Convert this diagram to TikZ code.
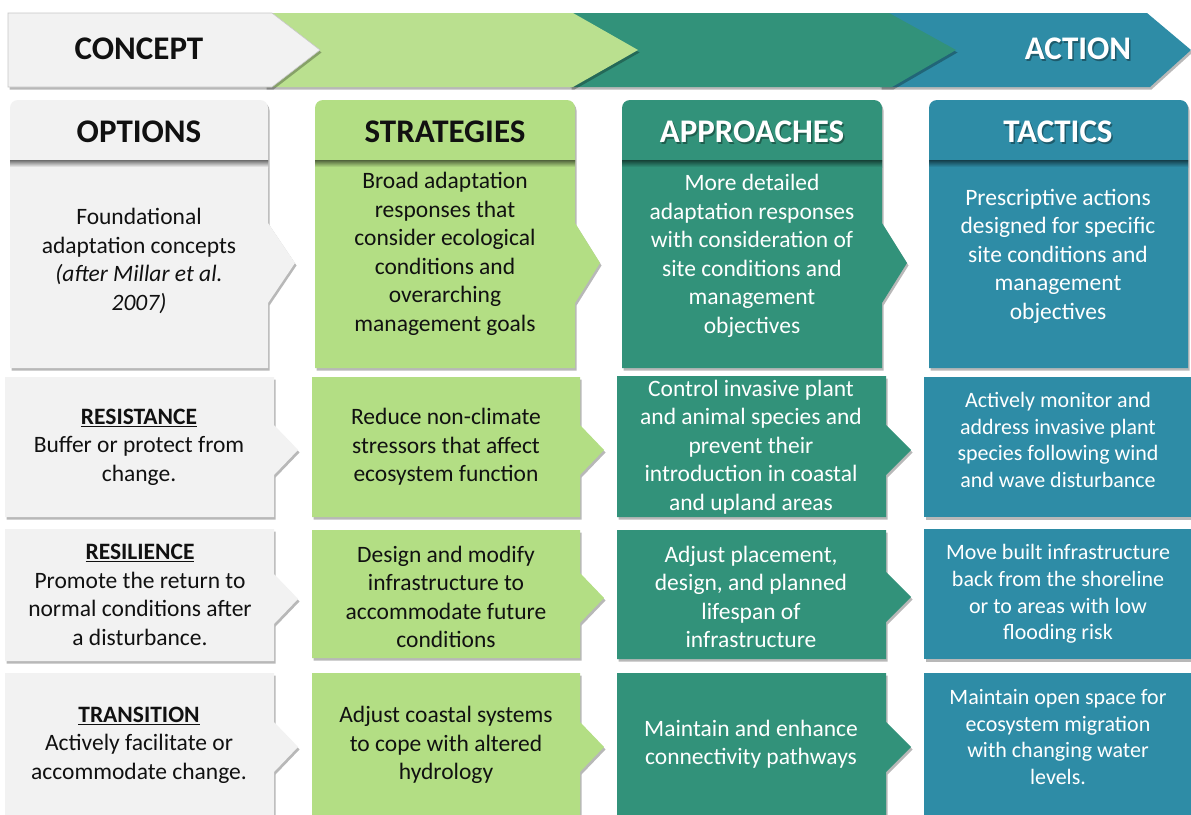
\documentclass[tikz,border=0pt]{standalone}
\usepackage{fontspec}
\setmainfont{Carlito}
\usetikzlibrary{shadows}
\definecolor{cgray}{HTML}{F2F2F2}
\definecolor{cgreen}{HTML}{B3DE84}
\definecolor{bgreen}{HTML}{BAE08F}
\definecolor{cteal}{HTML}{32927A}
\definecolor{cblue}{HTML}{2E8CA6}
\definecolor{ctext}{HTML}{111111}
\tikzset{
  shad/.style={drop shadow={shadow xshift=1.5pt, shadow yshift=-2.5pt, opacity=0.28, fill=black}},
  bodytxt/.style={font=\fontsize{23.5}{28.5}\selectfont, align=center, inner sep=0pt},
  tactxt/.style={font=\fontsize{22}{26.7}\selectfont, align=center, inner sep=0pt},
  headtxt/.style={font=\fontsize{33}{36}\selectfont\bfseries, inner sep=0pt},
  hshadow/.style={headtxt, text=black, opacity=0.35},
}
% left, right, tip, colour
\newcommand\hdrbox[4]{%
  \fill[#4, shad] (#1,160) -- (#2,160) -- (#2,223) -- (#3,263) -- (#2,303) -- (#2,368) -- (#1,368) -- cycle;
  \fill[#4, shad] (#1,160) [rounded corners=8pt] -- (#1,100) -- (#2,100) [sharp corners] -- (#2,160) -- cycle;
  \shade[top color=black!55!#4, bottom color=#4] (#1,160) rectangle (#2,167);
}
% left, right, tip, top, bottom, arrow centre, colour
\newcommand\rowbox[7]{%
  \fill[#7, shad] (#1,#4) -- (#2,#4) -- (#2,#6-25) -- (#3,#6) -- (#2,#6+25) -- (#2,#5) -- (#1,#5) -- cycle;
}
\begin{document}
\begin{tikzpicture}[x=1pt, y=-1pt]
\useasboundingbox (0,0) rectangle (1191,814);
\clip (0,0) rectangle (1191,814);
\fill[white] (0,0) rectangle (1191,814);

% ---------- banner ----------
\fill[cblue, shad] (880,13) -- (1147,13) -- (1191,50) -- (1150,87) -- (880,87) -- cycle;
\fill[cteal, shad] (570,13) -- (889,13) -- (956,50) -- (892,87) -- (570,87) -- cycle;
\fill[bgreen, shad] (265,13) -- (573,13) -- (638,50) -- (573,87) -- (265,87) -- cycle;
\filldraw[fill=cgray, draw=black!22, line width=0.6pt, shad] (8,13) -- (272,13) -- (320,50) -- (272,87) -- (8,87) -- cycle;
\node[headtxt, text=ctext] (tConcept) at (139,49) {CONCEPT};
\node[hshadow] (tActionS) at (1079.5,50.5) {ACTION};
\node[headtxt, text=white] (tAction) at (1078,49) {ACTION};

% ---------- header row ----------
\hdrbox{929}{1188}{1188}{cblue}
\hdrbox{622}{882}{907}{cteal}
\hdrbox{315}{575}{600}{cgreen}
\hdrbox{10}{268}{295}{cgray}

\node[headtxt, text=ctext] (hOpt) at (139,132) {OPTIONS};
\node[headtxt, text=ctext] (hStr) at (445,132) {STRATEGIES};
\node[hshadow] (hAppS) at (753.5,133.5) {APPROACHES};
\node[headtxt, text=white] (hApp) at (752,132) {APPROACHES};
\node[hshadow] (hTacS) at (1059.5,133.5) {TACTICS};
\node[headtxt, text=white] (hTac) at (1058,132) {TACTICS};

\node[bodytxt, text=ctext] (bOpt) at (139,261) {Foundational\\adaptation concepts\\\textit{(after Millar et al.}\\\textit{2007)}};
\node[bodytxt, text=ctext] (bStr) at (445,254) {Broad adaptation\\responses that\\consider ecological\\conditions and\\overarching\\management goals};
\node[bodytxt, text=white] (bApp) at (752,256) {More detailed\\adaptation responses\\with consideration of\\site conditions and\\management\\objectives};
\node[bodytxt, text=white] (bTac) at (1058,256) {Prescriptive actions\\designed for specific\\site conditions and\\management\\objectives};

% ---------- rows ----------
% row 1
\fill[cblue, shad] (924,377) rectangle (1191,517);
\rowbox{617}{886}{911}{376}{517}{450}{cteal}
\rowbox{312}{580}{604}{377}{517}{450}{cgreen}
\rowbox{5}{274}{298}{377}{517}{450}{cgray}
% row 2
\fill[cblue, shad] (924,529) rectangle (1191,659);
\rowbox{617}{886}{911}{530}{659}{597}{cteal}
\rowbox{312}{580}{604}{530}{658}{598}{cgreen}
\rowbox{5}{274}{298}{529}{661}{599}{cgray}
% row 3
\fill[cblue, shad] (924,673) rectangle (1191,830);
\rowbox{617}{886}{911}{673}{830}{747}{cteal}
\rowbox{312}{580}{604}{673}{830}{747}{cgreen}
\rowbox{5}{274}{298}{673}{830}{747}{cgray}

\node[bodytxt, text=ctext] (r1Opt) at (139,447) {\underline{\textbf{RESISTANCE}}\\Buffer or protect from\\change.};
\node[bodytxt, text=ctext] (r1Str) at (446,447) {Reduce non-climate\\stressors that affect\\ecosystem function};
\node[bodytxt, text=white] (r1App) at (751,447) {Control invasive plant\\and animal species and\\prevent their\\introduction in coastal\\and upland areas};
\node[tactxt, text=white] (r1Tac) at (1058,440) {Actively monitor and\\address invasive plant\\species following wind\\and wave disturbance};

\node[bodytxt, text=ctext] (r2Opt) at (140,595) {\underline{\textbf{RESILIENCE}}\\Promote the return to\\normal conditions after\\a disturbance.};
\node[bodytxt, text=ctext] (r2Str) at (446,597) {Design and modify\\infrastructure to\\accommodate future\\conditions};
\node[bodytxt, text=white] (r2App) at (751,597) {Adjust placement,\\design, and planned\\lifespan of\\infrastructure};
\node[tactxt, text=white] (r2Tac) at (1058,594) {Move built infrastructure\\back from the shoreline\\or to areas with low\\flooding risk};

\node[bodytxt, text=ctext] (r3Opt) at (139,745) {\underline{\textbf{TRANSITION}}\\Actively facilitate or\\accommodate change.};
\node[bodytxt, text=ctext] (r3Str) at (446,745) {Adjust coastal systems\\to cope with altered\\hydrology};
\node[bodytxt, text=white] (r3App) at (751,744) {Maintain and enhance\\connectivity pathways};
\node[tactxt, text=white] (r3Tac) at (1058,737) {Maintain open space for\\ecosystem migration\\with changing water\\levels.};
\end{tikzpicture}
\end{document}
